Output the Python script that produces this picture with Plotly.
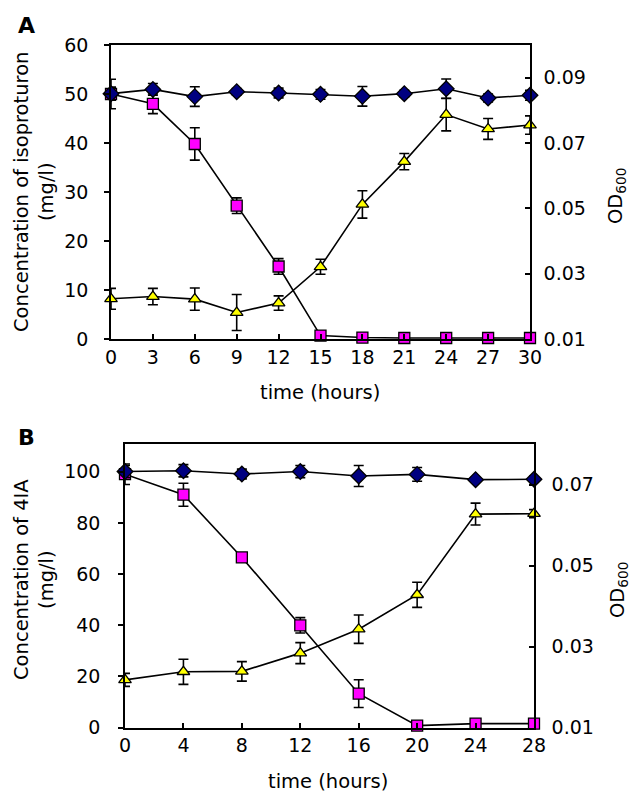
import plotly.graph_objects as go

# ---------- Panel A (isoproturon) ----------
tA = [0, 3, 6, 9, 12, 15, 18, 21, 24, 27, 30]
ipu_conc = [50.0, 48.0, 39.8, 27.2, 14.8, 0.7, 0.3, 0.2, 0.2, 0.2, 0.2]
ipu_err = [3.0, 2.0, 3.3, 1.6, 1.6, 0.3, 0.3, 0.2, 0.2, 0.2, 0.2]
odA_ctrl = [0.0851, 0.0864, 0.0842, 0.0857, 0.0853, 0.0849, 0.0843, 0.0851, 0.0866, 0.0838, 0.0846]
odA_ctrl_err = [0.0020, 0.0018, 0.0030, 0.0010, 0.0015, 0.0015, 0.0030, 0.0010, 0.0030, 0.0012, 0.0015]
odA_grow = [0.0223, 0.0230, 0.0222, 0.0181, 0.0210, 0.0321, 0.0512, 0.0643, 0.0787, 0.0743, 0.0755]
odA_grow_err = [0.0032, 0.0025, 0.0034, 0.0055, 0.0022, 0.0023, 0.0042, 0.0025, 0.0050, 0.0032, 0.0028]

# ---------- Panel B (4IA) ----------
tB = [0, 4, 8, 12, 16, 20, 24, 28]
ia_conc = [99.0, 91.0, 66.5, 40.0, 13.3, 0.8, 1.6, 1.6]
ia_err = [4.0, 4.5, 1.5, 3.0, 5.4, 0.5, 0.5, 0.5]
odB_ctrl = [0.0732, 0.0734, 0.0726, 0.0732, 0.0721, 0.0725, 0.0712, 0.0713]
odB_ctrl_err = [0.0015, 0.0015, 0.0012, 0.0015, 0.0026, 0.0017, 0.0005, 0.0008]
odB_grow = [0.0218, 0.0238, 0.0239, 0.0284, 0.0343, 0.0428, 0.0627, 0.0628]
odB_grow_err = [0.0016, 0.0031, 0.0024, 0.0026, 0.0035, 0.0031, 0.0027, 0.0010]

W, H = 633, 792
FONT = "DejaVu Sans, Liberation Sans, Arial, sans-serif"
FS = 19


def px(v):
    return v / W


def py(v):
    return 1 - v / H


def trace(x, y, err, xa, ya, symbol, color, size):
    return go.Scatter(
        x=x, y=y, xaxis=xa, yaxis=ya, mode="lines+markers",
        line=dict(color="black", width=1.6),
        marker=dict(symbol=symbol, color=color, size=size,
                    line=dict(color="black", width=1.3)),
        error_y=dict(type="data", array=err, visible=True, color="black",
                     thickness=1.6, width=5),
        cliponaxis=False, showlegend=False,
    )


fig = go.Figure()
fig.add_trace(trace(tA, ipu_conc, ipu_err, "x", "y", "square", "#FF00FF", 11))
fig.add_trace(trace(tA, odA_grow, odA_grow_err, "x", "y2", "triangle-up", "#FFFF00", 11))
fig.add_trace(trace(tA, odA_ctrl, odA_ctrl_err, "x", "y2", "diamond", "#000080", 12))
fig.add_trace(trace(tB, ia_conc, ia_err, "x2", "y3", "square", "#FF00FF", 11))
fig.add_trace(trace(tB, odB_grow, odB_grow_err, "x2", "y4", "triangle-up", "#FFFF00", 11))
fig.add_trace(trace(tB, odB_ctrl, odB_ctrl_err, "x2", "y4", "diamond", "#000080", 12))

axis_common = dict(showline=True, linecolor="black", linewidth=1.6,
                   showgrid=False, zeroline=False, tickcolor="black",
                   tickwidth=1.5, ticklen=5, automargin=False,
                   tickfont=dict(family=FONT, size=FS, color="black"))

fig.update_layout(
    width=W, height=H,
    margin=dict(l=0, r=0, t=0, b=0, pad=0, autoexpand=False),
    paper_bgcolor="white", plot_bgcolor="white",
    font=dict(family=FONT, size=FS, color="black"),
    showlegend=False,
    xaxis=dict(domain=[px(111), px(530)], range=[0, 30], tickvals=tA,
               ticks="inside", mirror=True, anchor="y", **axis_common),
    yaxis=dict(domain=[py(339), py(45)], range=[0, 60], dtick=10,
               ticks="outside", anchor="x", ticklabelstandoff=12, **axis_common),
    yaxis2=dict(range=[0.01, 0.1], tickvals=[0.01, 0.03, 0.05, 0.07, 0.09],
                ticktext=["0.01", "0.03", "0.05", "0.07", "0.09"],
                ticks="inside", side="right", overlaying="y", anchor="x",
                ticklabelstandoff=8, **axis_common),
    xaxis2=dict(domain=[px(125), px(534)], range=[0, 28], tickvals=tB,
                ticks="inside", mirror=True, anchor="y3", **axis_common),
    yaxis3=dict(domain=[py(727.7), py(444)], range=[0, 110.8],
                tickvals=[0, 20, 40, 60, 80, 100],
                ticks="outside", anchor="x2", ticklabelstandoff=14, **axis_common),
    yaxis4=dict(range=[0.01, 0.08], tickvals=[0.01, 0.03, 0.05, 0.07],
                ticktext=["0.01", "0.03", "0.05", "0.07"],
                ticks="inside", side="right", overlaying="y3", anchor="x2",
                ticklabelstandoff=12, **axis_common),
)

ann = []


def add_text(text, x, y, angle=0, size=FS, bold=False, align="center"):
    if bold:
        text = "<b>" + text + "</b>"
    ann.append(dict(text=text, x=px(x), y=py(y), xref="paper", yref="paper",
                    showarrow=False, textangle=angle, align=align,
                    xanchor="center", yanchor="middle",
                    font=dict(family=FONT, size=size, color="black")))


add_text("A", 26, 25, bold=True, size=22)
add_text("B", 26, 437, bold=True, size=22)
add_text("Concentration of isoproturon<br>(mg/l)", 34, 192, angle=-90, size=19.5)
add_text("Concentration of 4IA<br>(mg/l)", 34, 580, angle=-90, size=19.5)
add_text("OD<sub>600</sub>", 616, 196, angle=-90, size=19.5)
add_text("OD<sub>600</sub>", 618, 590, angle=-90, size=19.5)
add_text("time (hours)", 320, 392, size=19.5)
add_text("time (hours)", 328, 781, size=19.5)
fig.update_layout(annotations=ann)

fig.write_html(
    "out.html",
    config={"displayModeBar": False},
    post_script="document.body.style.margin='0';document.body.style.padding='0';"
                "document.body.style.overflow='hidden';",
)
